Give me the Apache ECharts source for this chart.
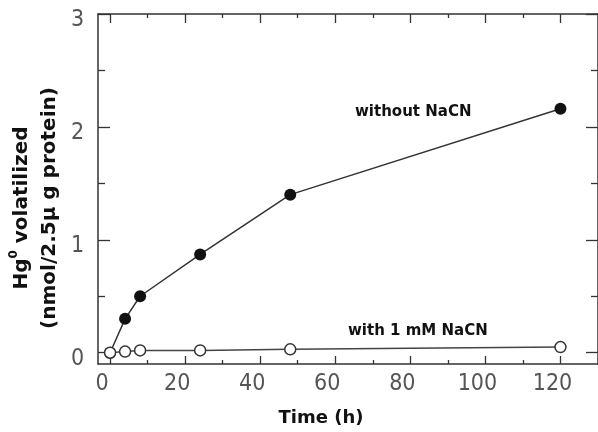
<!DOCTYPE html>
<html>
<head>
<meta charset="utf-8">
<title>Hg0 volatilized</title>
<script src="https://cdn.jsdelivr.net/npm/echarts@6.0.0/dist/echarts.min.js"></script>
<style>
  html, body { margin: 0; padding: 0; background: #fff; }
  #chart { width: 598px; height: 432px; }
</style>
</head>
<body>
<div id="chart"></div>
<script>
// time points (h)
const timeHours = [0, 4, 8, 24, 48, 120];
// Hg0 volatilized, nmol / 2.5 ug protein
const withoutNaCN = [0, 0.3, 0.5, 0.87, 1.4, 2.16];
const withNaCN = [0, 0.01, 0.02, 0.02, 0.03, 0.05];

const xMajorTicks = [0, 20, 40, 60, 80, 100, 120];
const xMinorTicks = [10, 30, 50, 70, 90, 110];
const yMajorTicks = [0, 1, 2, 3];
const yMinorTicks = [0.5, 1.5, 2.5];

const lineColor = '#333';
const labelFont = '"Liberation Sans Narrow", "DejaVu Sans Condensed", sans-serif';
const boldFont = '"DejaVu Sans", sans-serif';

function pairs(xs, ys) {
  return xs.map((x, i) => [x, ys[i]]);
}

// one value axis, only ticks (optionally line / labels)
function xAxisDef(pos, ticks, len, withLine, withLabel) {
  return {
    type: 'value',
    position: pos,
    min: -3.2,
    max: 130,
    axisLine: { show: withLine, onZero: false, lineStyle: { color: lineColor, width: 1.5 } },
    axisTick: { show: true, inside: true, length: len, customValues: ticks, lineStyle: { color: lineColor, width: 1.3 } },
    axisLabel: {
      show: withLabel,
      customValues: ticks,
      margin: 9,
      padding: [0, 16, 0, 0],
      fontFamily: labelFont,
      fontSize: 23,
      color: '#555',
    },
    splitLine: { show: false },
  };
}

function yAxisDef(pos, ticks, len, withLine, withLabel) {
  return {
    type: 'value',
    position: pos,
    min: -0.1,
    max: 3,
    axisLine: { show: withLine, onZero: false, lineStyle: { color: lineColor, width: 1.5 } },
    axisTick: { show: true, inside: true, length: len, customValues: ticks, lineStyle: { color: lineColor, width: 1.3 } },
    axisLabel: {
      show: withLabel,
      customValues: ticks,
      margin: 14,
      // labels sit a little below their ticks in the original
      verticalAlign: 'top',
      lineHeight: 12,
      fontFamily: labelFont,
      fontSize: 23,
      color: '#555',
    },
    splitLine: { show: false },
  };
}

const chart = echarts.init(document.getElementById('chart'), null, { renderer: 'canvas' });

const xBottom = xAxisDef('bottom', xMajorTicks, 8, true, true);
xBottom.name = 'Time (h)';
xBottom.nameLocation = 'middle';
xBottom.nameGap = 45;
xBottom.nameTextStyle = {
  fontFamily: boldFont,
  fontWeight: 'bold',
  fontSize: 18,
  color: '#111',
  padding: [0, 54, 0, 0],
};

const yLeft = yAxisDef('left', yMajorTicks, 12, true, true);
yLeft.name = '{t|Hg}{sup|0}{t| volatilized}\n{t|(nmol/2.5μ g protein)}';
yLeft.nameLocation = 'middle';
yLeft.nameRotate = 90;
yLeft.nameGap = 31;
yLeft.nameTextStyle = {
  color: '#111',
  padding: [0, 38, 0, 0],
  rich: {
    t: { fontFamily: boldFont, fontWeight: 'bold', fontSize: 20, lineHeight: 28, color: '#111' },
    sup: { fontFamily: boldFont, fontWeight: 'bold', fontSize: 12, lineHeight: 28, verticalAlign: 'top', color: '#111' },
  },
};

chart.setOption({
  animation: false,
  backgroundColor: '#fff',
  grid: {
    left: 98,
    right: -3,
    top: 14,
    bottom: 67,
    containLabel: false,
  },
  xAxis: [
    xBottom,
    xAxisDef('bottom', xMinorTicks, 4, false, false),
    xAxisDef('top', xMajorTicks, 9, true, false),
    xAxisDef('top', xMinorTicks, 4, false, false),
  ],
  yAxis: [
    yLeft,
    yAxisDef('left', yMinorTicks, 7, false, false),
    yAxisDef('right', yMajorTicks, 12, true, false),
    yAxisDef('right', yMinorTicks, 7, false, false),
  ],
  graphic: [
    {
      type: 'text',
      left: 355,
      top: 105,
      style: { text: 'without NaCN', font: 'bold 15px "DejaVu Sans", sans-serif', fill: '#111' },
    },
    {
      type: 'text',
      left: 348,
      top: 324,
      style: { text: 'with 1 mM NaCN', font: 'bold 15px "DejaVu Sans", sans-serif', fill: '#111' },
    },
  ],
  series: [
    {
      name: 'without NaCN',
      type: 'line',
      xAxisIndex: 0,
      yAxisIndex: 0,
      data: pairs(timeHours, withoutNaCN),
      symbol: 'circle',
      symbolSize: 12,
      itemStyle: { color: '#111' },
      lineStyle: { color: lineColor, width: 1.5 },
      z: 3,
    },
    {
      name: 'with 1 mM NaCN',
      type: 'line',
      xAxisIndex: 0,
      yAxisIndex: 0,
      data: pairs(timeHours, withNaCN),
      symbol: 'circle',
      symbolSize: 11,
      itemStyle: { color: '#fff', borderColor: lineColor, borderWidth: 1.5 },
      lineStyle: { color: '#444', width: 1.5 },
      z: 4,
    },
  ],
});
</script>
</body>
</html>
